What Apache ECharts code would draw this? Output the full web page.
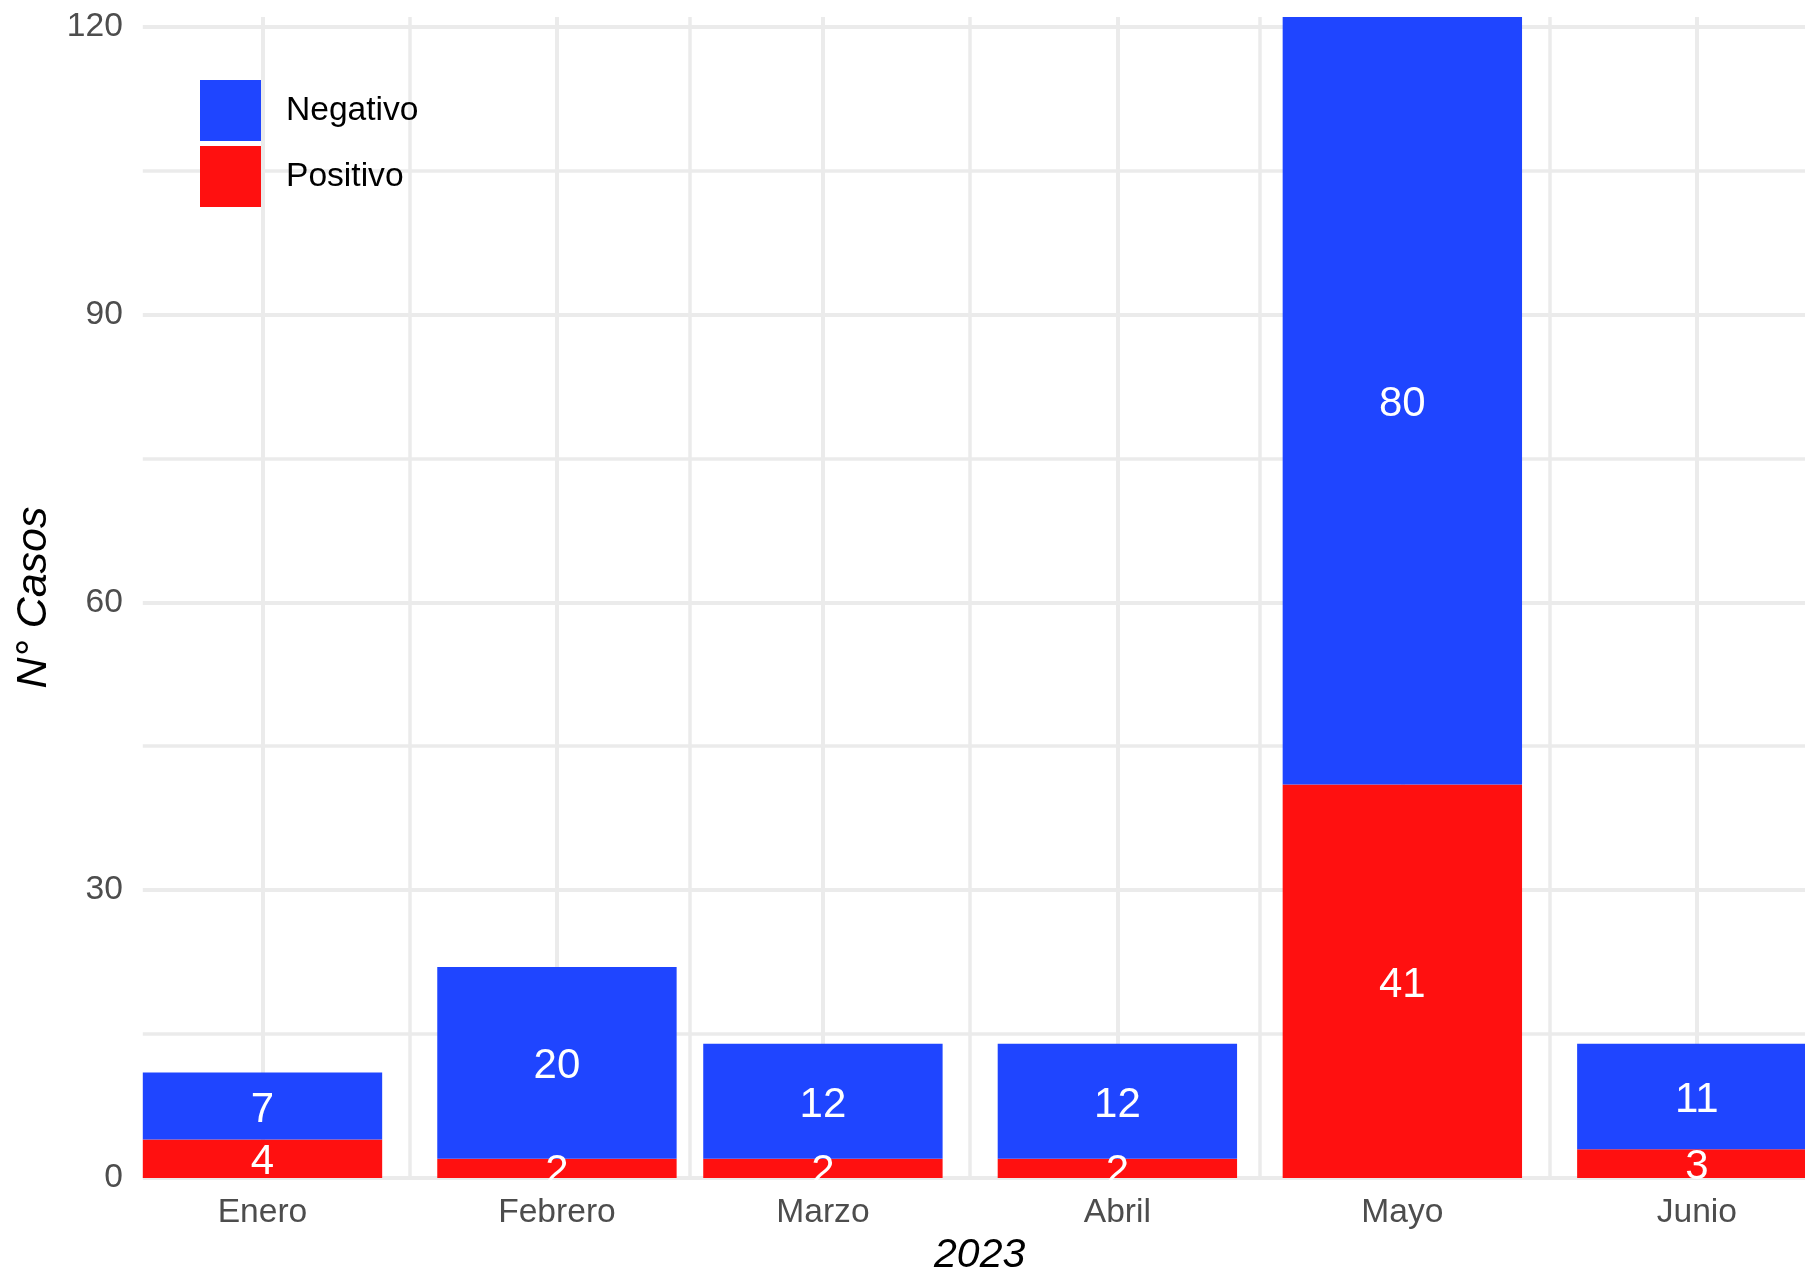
<!DOCTYPE html>
<html>
<head>
<meta charset="utf-8">
<script src="https://cdn.jsdelivr.net/npm/echarts@6/dist/echarts.min.js"></script>
<style>
  html, body { margin: 0; padding: 0; background: #ffffff; }
  #chart { width: 1805px; height: 1271px; }
</style>
</head>
<body>
<div id="chart"></div>
<script>
// ---- data ----
const months = ['Enero', 'Febrero', 'Marzo', 'Abril', 'Mayo', 'Junio'];
const monthDates = ['2023-01-01', '2023-02-01', '2023-03-01', '2023-04-01', '2023-05-01', '2023-06-01'];
const positivo = [4, 2, 2, 2, 41, 3];
const negativo = [7, 20, 12, 12, 80, 11];
const yTicks = [0, 30, 60, 90, 120];
const xTitle = '2023';
const yTitle = 'N° Casos';

// ---- derived ----
const DAY = 86400000;
const origin = Date.parse(monthDates[0] + 'T00:00:00Z');
const xs = monthDates.map(d => (Date.parse(d + 'T00:00:00Z') - origin) / DAY);
let minGap = Infinity;
for (let i = 1; i < xs.length; i++) minGap = Math.min(minGap, xs[i] - xs[i - 1]);
const halfBar = 0.45 * minGap;
const xMin = xs[0] - halfBar;
const xMax = xs[xs.length - 1] + halfBar;
const totals = positivo.map((p, i) => p + negativo[i]);
const yMax = Math.max(...totals);
const xMinor = xs.slice(1).map((v, i) => (v + xs[i]) / 2);
const yMinor = yTicks.slice(1).map((v, i) => (v + yTicks[i]) / 2);

const gridColor = '#EBEBEB';
const gridLines = []
  .concat(xs.map(v => ({ xAxis: v, lineStyle: { width: 4 } })))
  .concat(xMinor.map(v => ({ xAxis: v, lineStyle: { width: 3.5 } })))
  .concat(yTicks.map(v => ({ yAxis: v, lineStyle: { width: 4 } })))
  .concat(yMinor.map(v => ({ yAxis: v, lineStyle: { width: 3.5 } })));

const FONT = '"Liberation Sans", Arial, Helvetica, sans-serif';
const labelStyle = {
  show: true, position: 'inside', offset: [0, 4], color: '#ffffff', fontSize: 42, fontFamily: FONT,
  formatter: p => String(p.data[0])
};

// data rows are [value, x] so that the value column is the stacked one
const rows = vals => xs.map((x, i) => [vals[i], x]);

const chart = echarts.init(document.getElementById('chart'), null, { renderer: 'canvas' });
chart.setOption({
  animation: false,
  backgroundColor: '#ffffff',
  grid: { left: 142.8, right: -11.5, top: 17, bottom: 93, containLabel: false, outerBoundsMode: 'none' },
  legend: {
    data: ['Negativo', 'Positivo'],
    orient: 'vertical',
    left: 200,
    top: 80,
    padding: 0,
    itemWidth: 61,
    itemHeight: 61,
    itemGap: 5,
    icon: 'rect',
    textStyle: { fontSize: 33.6, color: '#000000', fontFamily: FONT, padding: [8, 0, 0, 20] }
  },
  xAxis: {
    type: 'value',
    min: xMin,
    max: xMax,
    name: xTitle,
    nameLocation: 'middle',
    nameGap: 57,
    nameTextStyle: { fontSize: 41, fontStyle: 'italic', color: '#000000', fontFamily: FONT },
    axisLine: { show: false },
    axisTick: { show: false },
    splitLine: { show: false },
    axisLabel: {
      customValues: xs,
      margin: 17.5,
      fontSize: 33.6,
      color: '#4D4D4D',
      fontFamily: FONT,
      formatter: v => { const i = xs.indexOf(+v); return i >= 0 ? months[i] : ''; }
    }
  },
  yAxis: {
    type: 'value',
    min: 0,
    max: yMax,
    name: yTitle,
    nameLocation: 'middle',
    nameGap: 79,
    nameRotate: 90,
    nameTextStyle: { fontSize: 43, fontStyle: 'italic', color: '#000000', fontFamily: FONT },
    axisLine: { show: false },
    axisTick: { show: false },
    splitLine: { show: false },
    axisLabel: {
      customValues: yTicks,
      margin: 20,
      padding: [5, 0, 0, 0],
      fontSize: 33.6,
      color: '#4D4D4D',
      fontFamily: FONT
    }
  },
  series: [
    {
      name: 'Gridlines',
      type: 'line',
      data: [],
      silent: true,
      z: 0,
      markLine: {
        silent: true,
        z: 0,
        symbol: ['none', 'none'],
        label: { show: false },
        lineStyle: { color: gridColor, type: 'solid' },
        emphasis: { disabled: true },
        data: gridLines
      }
    },
    {
      name: 'Positivo',
      type: 'bar',
      stack: 'total',
      barWidth: '90%',
      z: 2,
      encode: { x: 1, y: 0 },
      itemStyle: { color: '#FF1010' },
      label: labelStyle,
      data: rows(positivo)
    },
    {
      name: 'Negativo',
      type: 'bar',
      stack: 'total',
      barWidth: '90%',
      z: 2,
      encode: { x: 1, y: 0 },
      itemStyle: { color: '#1F45FF' },
      label: labelStyle,
      data: rows(negativo)
    }
  ]
});
</script>
</body>
</html>
